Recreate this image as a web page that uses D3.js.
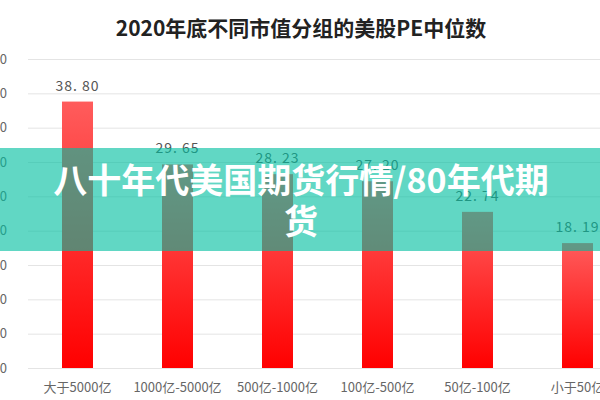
<!DOCTYPE html>
<html>
<head>
<meta charset="utf-8">
<script src="https://cdn.jsdelivr.net/npm/d3@7"></script>
<style>
  html, body { margin: 0; padding: 0; background: #fff; }
  svg { display: block; }
</style>
</head>
<body>
<svg width="600" height="400"></svg>
<script>
const width = 600;
const height = 400;

// 数据
const categories = ["大于5000亿", "1000亿-5000亿", "500亿-1000亿", "100亿-500亿", "50亿-100亿", "小于50亿"];
const peMedian = [38.80, 29.65, 28.23, 27.20, 22.74, 18.19];
const yTicks = [0, 5, 10, 15, 20, 25, 30, 35, 40, 45];

const svg = d3.select("svg")
    .attr("viewBox", [0, 0, width, height]);

const x = d3.scaleBand()
    .domain(categories)
    .range([27.5, 627.5])
    .paddingInner(0.69)
    .paddingOuter(0.345);

const y = d3.scaleLinear()
    .domain([0, 45])
    .range([368, 59]);

// 渐变
const grad = svg.append("defs").append("linearGradient")
    .attr("id", "barGrad")
    .attr("x1", 0).attr("y1", 0).attr("x2", 0).attr("y2", 1);
grad.append("stop").attr("offset", "0%").attr("stop-color", "#ff5c5c");
grad.append("stop").attr("offset", "100%").attr("stop-color", "#ff0000");

// 网格线
svg.append("g")
    .selectAll("line")
    .data(yTicks)
    .join("line")
    .attr("x1", 28)
    .attr("x2", width)
    .attr("y1", d => y(d) + 0.5)
    .attr("y2", d => y(d) + 0.5)
    .attr("stroke", "#e4e4e4")
    .attr("stroke-width", 1);

// y轴标签 (被裁切)
svg.append("g")
    .selectAll("text")
    .data(yTicks)
    .join("text")
    .attr("x", 7)
    .attr("y", d => y(d))
    .attr("dy", "0.35em")
    .attr("text-anchor", "end")
    .attr("font-family", "'Noto Sans CJK SC', sans-serif")
    .attr("font-size", 13)
    .attr("fill", "#666")
    .text(d => d3.format(".2f")(d));

// 柱子
svg.append("g")
    .selectAll("rect")
    .data(peMedian)
    .join("rect")
    .attr("x", (d, i) => x(categories[i]))
    .attr("y", d => y(d))
    .attr("width", x.bandwidth())
    .attr("height", d => y(0) - y(d))
    .attr("fill", "url(#barGrad)");

// 数值标签
svg.append("g")
    .selectAll("text")
    .data(peMedian)
    .join("text")
    .attr("x", (d, i) => x(categories[i]) + x.bandwidth() / 2)
    .attr("y", d => y(d) - 11)
    .attr("text-anchor", "middle")
    .attr("font-family", "'Noto Sans CJK SC', sans-serif")
    .attr("font-size", 14)
    .attr("letter-spacing", 1)
    .attr("fill", "#555")
    .text(d => d3.format(".2f")(d).replace(".", ". "));

// x轴标签
svg.append("g")
    .selectAll("text")
    .data(categories)
    .join("text")
    .attr("x", d => x(d) + x.bandwidth() / 2)
    .attr("y", 387)
    .attr("dy", "0.35em")
    .attr("text-anchor", "middle")
    .attr("font-family", "'Noto Sans CJK SC', sans-serif")
    .attr("font-size", 13)
    .attr("fill", "#666")
    .text(d => d);

// 标题
svg.append("text")
    .attr("x", 301)
    .attr("y", 29)
    .attr("dy", "0.35em")
    .attr("text-anchor", "middle")
    .attr("font-family", "'Noto Sans CJK SC', sans-serif")
    .attr("font-weight", 700)
    .attr("font-size", 21)
    .attr("fill", "#222")
    .text("2020年底不同市值分组的美股PE中位数");

// 覆盖横幅
svg.append("rect")
    .attr("x", 0)
    .attr("y", 148)
    .attr("width", width)
    .attr("height", 103)
    .attr("fill", "rgb(0,190,160)")
    .attr("fill-opacity", 0.62);

const bannerLines = ["八十年代美国期货行情/80年代期", "货"];
svg.append("g")
    .selectAll("text")
    .data(bannerLines)
    .join("text")
    .attr("x", 301)
    .attr("y", (d, i) => 193 + i * 41)
    .attr("text-anchor", "middle")
    .attr("font-family", "'Noto Sans CJK SC', sans-serif")
    .attr("font-weight", 700)
    .attr("font-size", 34)
    .attr("fill", "#fff")
    .text(d => d);
</script>
</body>
</html>
